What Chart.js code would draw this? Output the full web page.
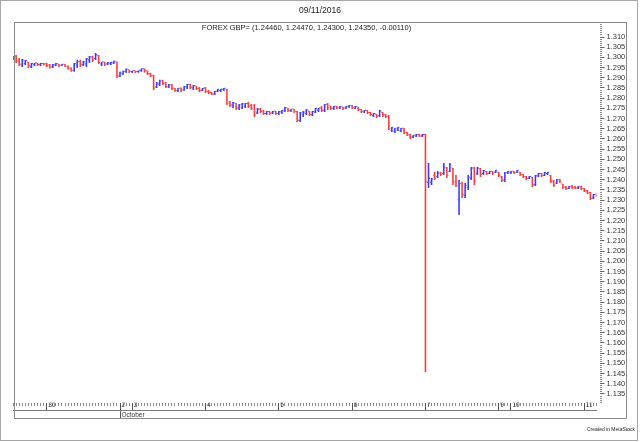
<!DOCTYPE html>
<html>
<head>
<meta charset="utf-8">
<title>FOREX GBP=</title>
<script src="https://cdn.jsdelivr.net/npm/chart.js@4.4.1/dist/chart.umd.min.js"></script>
<style>
  body { margin: 0; background: #fff; }
  #wrap { position: relative; width: 640px; height: 442px; font-family: "Liberation Sans", Arial, sans-serif; }
  #wrap canvas { position: absolute; left: 0; top: 0; }
  #wrap .txt { position: absolute; white-space: nowrap; color: #222; }
  #title { top: 4px; left: 0; width: 640px; text-align: center; font-size: 8.5px; line-height: 12px; }
  #subtitle { top: 23px; left: 13px; width: 587px; text-align: center; font-size: 7.5px; line-height: 10px; }
  #credit { top: 426px; right: 5px; font-size: 5px; line-height: 6px; }
</style>
</head>
<body>
<div id="wrap">
  <canvas id="chart" width="640" height="442"></canvas>
  <div class="txt" id="title">09/11/2016</div>
  <div class="txt" id="subtitle">FOREX GBP= (1.24460, 1.24470, 1.24300, 1.24350, -0.00110)</div>
  <div class="txt" id="credit">Created in MetaStock</div>
</div>
<script>
// hourly sessions: [date, first hour, last hour]
const sessions = [
    ["2016-09-29", 13, 23],
    ["2016-09-30", 0, 23],
    ["2016-10-02", 20, 23],
    ["2016-10-03", 0, 23],
    ["2016-10-04", 0, 23],
    ["2016-10-05", 0, 23],
    ["2016-10-06", 0, 23],
    ["2016-10-07", 0, 23],
    ["2016-10-09", 20, 23],
    ["2016-10-10", 0, 23],
    ["2016-10-11", 0, 4],
];

const open = [
    1.2993, 1.3005, 1.2985, 1.2960, 1.2968, 1.2975, 1.2952, 1.2962, 1.2970, 1.2962, 1.2968,
    1.2966, 1.2960, 1.2950, 1.2960, 1.2966, 1.2960, 1.2964, 1.2956, 1.2946, 1.2935,
    1.2960, 1.2978, 1.2962, 1.2965, 1.2985, 1.3000, 1.2992, 1.3008, 1.2965, 1.2975,
    1.2965, 1.2966, 1.2970, 1.2975,
    1.2908, 1.2918, 1.2928, 1.2938,
    1.2928, 1.2933, 1.2928, 1.2932, 1.2942, 1.2932, 1.2918, 1.2908,
    1.2852, 1.2866, 1.2882, 1.2872, 1.2853, 1.2864, 1.2846, 1.2835, 1.2846, 1.2838,
    1.2852, 1.2864, 1.2848, 1.2858, 1.2846, 1.2837,
    1.2848, 1.2832, 1.2826, 1.2818, 1.2832, 1.2835, 1.2840, 1.2842,
    1.2780, 1.2760, 1.2772, 1.2748, 1.2752, 1.2758, 1.2772, 1.2762, 1.2760,
    1.2725, 1.2745, 1.2735, 1.2722, 1.2732, 1.2725, 1.2733,
    1.2722, 1.2730, 1.2736, 1.2750, 1.2736, 1.2744, 1.2732, 1.2688, 1.2715, 1.2722,
    1.2735, 1.2716, 1.2730, 1.2740, 1.2750, 1.2738, 1.2768, 1.2760, 1.2748, 1.2758,
    1.2750, 1.2756, 1.2749, 1.2756,
    1.2762, 1.2750, 1.2756, 1.2742, 1.2730, 1.2738, 1.2728, 1.2712, 1.2720, 1.2712,
    1.2730, 1.2716, 1.2710, 1.2640, 1.2635, 1.2642, 1.2638, 1.2650, 1.2630, 1.2620,
    1.2608, 1.2612, 1.2620, 1.2612,
    1.2620,
    1.2385, 1.2385, 1.2420, 1.2412, 1.2432, 1.2428, 1.2455, 1.2440, 1.2455, 1.2390,
    1.2300, 1.2378, 1.2320, 1.2360, 1.2405, 1.2455, 1.2430, 1.2452, 1.2428, 1.2440,
    1.2430, 1.2440, 1.2435,
    1.2435, 1.2415, 1.2395, 1.2432,
    1.2432, 1.2440, 1.2434, 1.2436, 1.2424, 1.2414, 1.2405, 1.2410, 1.2375, 1.2416,
    1.2428, 1.2420, 1.2428, 1.2420, 1.2392, 1.2382, 1.2398, 1.2378, 1.2362, 1.2356,
    1.2366, 1.2362, 1.2357, 1.2364,
    1.2355, 1.2345, 1.2335, 1.2308, 1.2328,
];

const high = [
    1.3007, 1.3012, 1.2997, 1.2992, 1.2988, 1.2978, 1.2973, 1.2973, 1.2973, 1.2972, 1.2973,
    1.2972, 1.2968, 1.2968, 1.2973, 1.2968, 1.2966, 1.2968, 1.2960, 1.2950, 1.2973,
    1.2988, 1.2988, 1.2983, 1.2997, 1.3007, 1.3007, 1.3022, 1.3012, 1.2978, 1.2978,
    1.2978, 1.2978, 1.2983, 1.2980,
    1.2930, 1.2935, 1.2945, 1.2940,
    1.2935, 1.2935, 1.2936, 1.2945, 1.2945, 1.2935, 1.2925, 1.2915,
    1.2880, 1.2890, 1.2890, 1.2880, 1.2870, 1.2870, 1.2850, 1.2850, 1.2852, 1.2860,
    1.2870, 1.2870, 1.2865, 1.2860, 1.2855, 1.2850,
    1.2855, 1.2840, 1.2830, 1.2835, 1.2845, 1.2845, 1.2850, 1.2845,
    1.2786, 1.2781, 1.2776, 1.2772, 1.2776, 1.2776, 1.2781, 1.2772, 1.2772,
    1.2752, 1.2752, 1.2742, 1.2737, 1.2737, 1.2737, 1.2737,
    1.2737, 1.2742, 1.2757, 1.2752, 1.2747, 1.2747, 1.2737, 1.2732, 1.2737, 1.2747,
    1.2737, 1.2737, 1.2752, 1.2752, 1.2762, 1.2772, 1.2776, 1.2762, 1.2762, 1.2762,
    1.2762, 1.2757, 1.2762, 1.2767,
    1.2767, 1.2762, 1.2757, 1.2747, 1.2742, 1.2742, 1.2732, 1.2727, 1.2723, 1.2742,
    1.2732, 1.2723, 1.2718, 1.2659, 1.2654, 1.2659, 1.2654, 1.2654, 1.2634, 1.2625,
    1.2620, 1.2625, 1.2625, 1.2625,
    1.2625,
    1.2482, 1.2409, 1.2438, 1.2443, 1.2438, 1.2482, 1.2463, 1.2482, 1.2458, 1.2424,
    1.2399, 1.2390, 1.2384, 1.2424, 1.2463, 1.2463, 1.2463, 1.2458, 1.2448, 1.2443,
    1.2443, 1.2443, 1.2448,
    1.2438, 1.2419, 1.2438, 1.2443,
    1.2443, 1.2443, 1.2448, 1.2438, 1.2428, 1.2419, 1.2419, 1.2414, 1.2424, 1.2433,
    1.2433, 1.2438, 1.2438, 1.2424, 1.2399, 1.2404, 1.2404, 1.2380, 1.2370, 1.2370,
    1.2375, 1.2370, 1.2370, 1.2370,
    1.2360, 1.2350, 1.2340, 1.2330, 1.2330,
];

const low = [
    1.2987, 1.2973, 1.2958, 1.2953, 1.2963, 1.2948, 1.2948, 1.2958, 1.2958, 1.2958, 1.2960,
    1.2953, 1.2945, 1.2948, 1.2958, 1.2953, 1.2958, 1.2953, 1.2940, 1.2930, 1.2930,
    1.2948, 1.2953, 1.2958, 1.2953, 1.2973, 1.2978, 1.2987, 1.2968, 1.2958, 1.2958,
    1.2963, 1.2963, 1.2968, 1.2899,
    1.2904, 1.2914, 1.2924, 1.2924,
    1.2924, 1.2924, 1.2925, 1.2930, 1.2926, 1.2914, 1.2904, 1.2840,
    1.2850, 1.2860, 1.2865, 1.2850, 1.2850, 1.2840, 1.2830, 1.2830, 1.2831, 1.2836,
    1.2845, 1.2845, 1.2840, 1.2840, 1.2830, 1.2835,
    1.2826, 1.2821, 1.2816, 1.2816, 1.2830, 1.2830, 1.2835, 1.2767,
    1.2757, 1.2752, 1.2742, 1.2742, 1.2747, 1.2752, 1.2752, 1.2742, 1.2708,
    1.2723, 1.2727, 1.2718, 1.2718, 1.2718, 1.2723, 1.2718,
    1.2718, 1.2723, 1.2732, 1.2732, 1.2732, 1.2727, 1.2683, 1.2683, 1.2708, 1.2718,
    1.2713, 1.2713, 1.2727, 1.2732, 1.2732, 1.2732, 1.2742, 1.2742, 1.2742, 1.2747,
    1.2747, 1.2742, 1.2747, 1.2752,
    1.2747, 1.2747, 1.2737, 1.2727, 1.2727, 1.2723, 1.2713, 1.2708, 1.2703, 1.2708,
    1.2708, 1.2703, 1.2644, 1.2634, 1.2629, 1.2639, 1.2634, 1.2625, 1.2615, 1.2600,
    1.2605, 1.2610, 1.2610, 1.2610,
    1.1458,
    1.2360, 1.2375, 1.2399, 1.2409, 1.2419, 1.2424, 1.2409, 1.2438, 1.2375, 1.2365,
    1.2227, 1.2311, 1.2311, 1.2350, 1.2399, 1.2375, 1.2424, 1.2414, 1.2424, 1.2424,
    1.2428, 1.2424, 1.2433,
    1.2414, 1.2389, 1.2389, 1.2428,
    1.2428, 1.2428, 1.2433, 1.2419, 1.2409, 1.2399, 1.2404, 1.2365, 1.2370, 1.2414,
    1.2414, 1.2419, 1.2424, 1.2384, 1.2365, 1.2380, 1.2384, 1.2355, 1.2350, 1.2355,
    1.2355, 1.2355, 1.2355, 1.2350,
    1.2340, 1.2330, 1.2301, 1.2306, 1.2316,
];

const close = [
    1.3002, 1.2978, 1.2965, 1.2985, 1.2982, 1.2955, 1.2968, 1.2970, 1.2963, 1.2968, 1.2965,
    1.2958, 1.2950, 1.2962, 1.2968, 1.2958, 1.2964, 1.2956, 1.2945, 1.2935, 1.2968,
    1.2978, 1.2962, 1.2975, 1.2990, 1.3000, 1.2985, 1.3010, 1.2972, 1.2975, 1.2965,
    1.2972, 1.2974, 1.2980, 1.2905,
    1.2925, 1.2930, 1.2940, 1.2930,
    1.2933, 1.2928, 1.2934, 1.2942, 1.2932, 1.2918, 1.2908, 1.2848,
    1.2872, 1.2882, 1.2870, 1.2855, 1.2864, 1.2845, 1.2836, 1.2846, 1.2838, 1.2855,
    1.2865, 1.2850, 1.2860, 1.2845, 1.2836, 1.2846,
    1.2830, 1.2825, 1.2818, 1.2832, 1.2842, 1.2843, 1.2846, 1.2772,
    1.2765, 1.2776, 1.2750, 1.2765, 1.2770, 1.2772, 1.2758, 1.2748, 1.2715,
    1.2745, 1.2732, 1.2722, 1.2732, 1.2724, 1.2733, 1.2723,
    1.2732, 1.2738, 1.2752, 1.2738, 1.2744, 1.2732, 1.2690, 1.2726, 1.2730, 1.2740,
    1.2718, 1.2732, 1.2748, 1.2750, 1.2738, 1.2765, 1.2752, 1.2748, 1.2758, 1.2750,
    1.2758, 1.2748, 1.2758, 1.2762,
    1.2752, 1.2758, 1.2742, 1.2732, 1.2738, 1.2728, 1.2718, 1.2722, 1.2710, 1.2735,
    1.2715, 1.2708, 1.2650, 1.2655, 1.2650, 1.2655, 1.2650, 1.2630, 1.2618, 1.2605,
    1.2617, 1.2620, 1.2612, 1.2620,
    1.2390,
    1.2405, 1.2402, 1.2405, 1.2430, 1.2424, 1.2460, 1.2420, 1.2470, 1.2385, 1.2370,
    1.2380, 1.2325, 1.2370, 1.2410, 1.2455, 1.2392, 1.2455, 1.2425, 1.2442, 1.2430,
    1.2438, 1.2428, 1.2444,
    1.2420, 1.2395, 1.2432, 1.2440,
    1.2440, 1.2432, 1.2444, 1.2424, 1.2414, 1.2404, 1.2414, 1.2372, 1.2418, 1.2428,
    1.2418, 1.2432, 1.2434, 1.2390, 1.2372, 1.2398, 1.2388, 1.2360, 1.2355, 1.2364,
    1.2358, 1.2357, 1.2364, 1.2355,
    1.2343, 1.2333, 1.2306, 1.2325, 1.2322,
];

const Y_MIN = 1.130833;
const Y_MAX = 1.317353;
const Y_TOP_LABEL = 1.310;
const UP = "rgb(60, 60, 255)";
const DOWN = "rgb(255, 60, 60)";

// category labels + day / month ticks from the sessions
const labels = [];
const dayLabel = {};
const monthLabel = {};
sessions.forEach(([date, from, to], s) => {
    const [, month, day] = date.split("-");
    if (s > 0) dayLabel[labels.length] = String(Number(day));
    if (s > 0 && month !== sessions[s - 1][0].split("-")[1]) monthLabel[labels.length] = "October";
    for (let h = from; h <= to; h++) {
        labels.push(date + " " + String(h).padStart(2, "0") + ":00");
    }
});

const barColors = close.map((c, i) => (c >= open[i] ? UP : DOWN));

const barStyle = {
    xAxisID: "x",
    yAxisID: "y",
    backgroundColor: barColors,
    borderWidth: 0,
    barThickness: 1,
    minBarLength: 1,
    inflateAmount: 0,
};

const framePlugin = {
    id: "frame",
    beforeDraw(chart) {
        const c = chart.ctx;
        c.save();
        c.fillStyle = "#fff";
        c.fillRect(0, 0, chart.width, chart.height);
        c.restore();
    },
    afterDraw(chart) {
        const c = chart.ctx;
        c.save();
        c.lineWidth = 1;
        c.strokeStyle = "#a8a8a8";
        c.strokeRect(0.5, 0.5, 637, 440);
        c.strokeStyle = "#8a8a8a";
        c.strokeRect(14.5, 22.5, 612, 396);
        c.restore();
    },
};

Chart.defaults.font.family = '"Liberation Sans", Arial, sans-serif';

const catAxis = (extra) => Object.assign({
    type: "category",
    position: "bottom",
    offset: false,
    border: { display: false },
}, extra);

new Chart(document.getElementById("chart").getContext("2d"), {
    type: "bar",
    data: {
        labels: labels,
        datasets: [
            { label: "Open", data: open.map((v) => [v, v]), ...barStyle },
            { label: "High-Low", data: low.map((v, i) => [v, high[i]]), ...barStyle, barThickness: 1.6 },
            { label: "Close", data: close.map((v) => [v, v]), ...barStyle },
        ],
    },
    options: {
        responsive: false,
        animation: false,
        devicePixelRatio: 1,
        events: [],
        layout: { padding: { left: 13.1, right: 13, top: 22, bottom: 23.5 } },
        plugins: {
            legend: { display: false },
            tooltip: { enabled: false },
        },
        scales: {
            x: catAxis({
                weight: 0,
                grid: { offset: false, drawOnChartArea: false, tickLength: 3.5, tickColor: "#8c8c8c" },
                ticks: { display: false },
                afterFit: (s) => { s.height = 0; },
            }),
            xDay: catAxis({
                weight: 1,
                grid: { offset: false, drawOnChartArea: false, tickLength: 8, tickColor: "#555" },
                ticks: {
                    autoSkip: false, maxRotation: 0, align: "start", labelOffset: 1.5, padding: -9,
                    color: "#333", font: { size: 6.5 },
                    callback: (v) => dayLabel[v] ?? "",
                },
                afterBuildTicks: (s) => { s.ticks = s.ticks.filter((t) => t.value in dayLabel); },
                afterFit: (s) => { s.height = 8; },
            }),
            xMonth: catAxis({
                weight: 2,
                border: { display: true, color: "#7a7a7a", width: 1 },
                grid: { offset: false, drawOnChartArea: false, tickLength: 8, tickColor: "#555" },
                ticks: {
                    autoSkip: false, maxRotation: 0, align: "start", labelOffset: 1.5, padding: -7,
                    color: "#333", font: { size: 6.5 },
                    callback: (v) => monthLabel[v] ?? "",
                },
                afterBuildTicks: (s) => { s.ticks = s.ticks.filter((t) => t.value in monthLabel); },
                afterFit: (s) => { s.height = 8; },
            }),
            yPad: {
                type: "linear",
                position: "right",
                weight: 0,
                grid: { display: false },
                border: { display: false },
                ticks: { display: false },
                afterFit: (s) => { s.width = 3; },
            },
            yMinor: {
                type: "linear",
                position: "right",
                weight: 1,
                min: Y_MIN,
                max: Y_MAX,
                grid: { drawOnChartArea: false, tickLength: 2.5, tickColor: "#8c8c8c" },
                border: { display: false },
                ticks: { display: false, stepSize: 0.001, includeBounds: false },
                afterFit: (s) => { s.width = 0; },
            },
            y: {
                type: "linear",
                position: "right",
                weight: 2,
                min: Y_MIN,
                max: Y_MAX,
                beginAtZero: false,
                grid: { drawOnChartArea: false, tickLength: 5, tickColor: "#666" },
                border: { display: false },
                ticks: {
                    stepSize: 0.005, includeBounds: false, autoSkip: false, padding: 2,
                    color: "#333", font: { size: 7.5 },
                    callback: (v) => v.toFixed(3),
                },
                afterBuildTicks: (s) => { s.ticks = s.ticks.filter((t) => t.value <= Y_TOP_LABEL + 1e-6); },
                afterFit: (s) => { s.width = 27.5; },
            },
        },
    },
    plugins: [framePlugin],
});
</script>
</body>
</html>
